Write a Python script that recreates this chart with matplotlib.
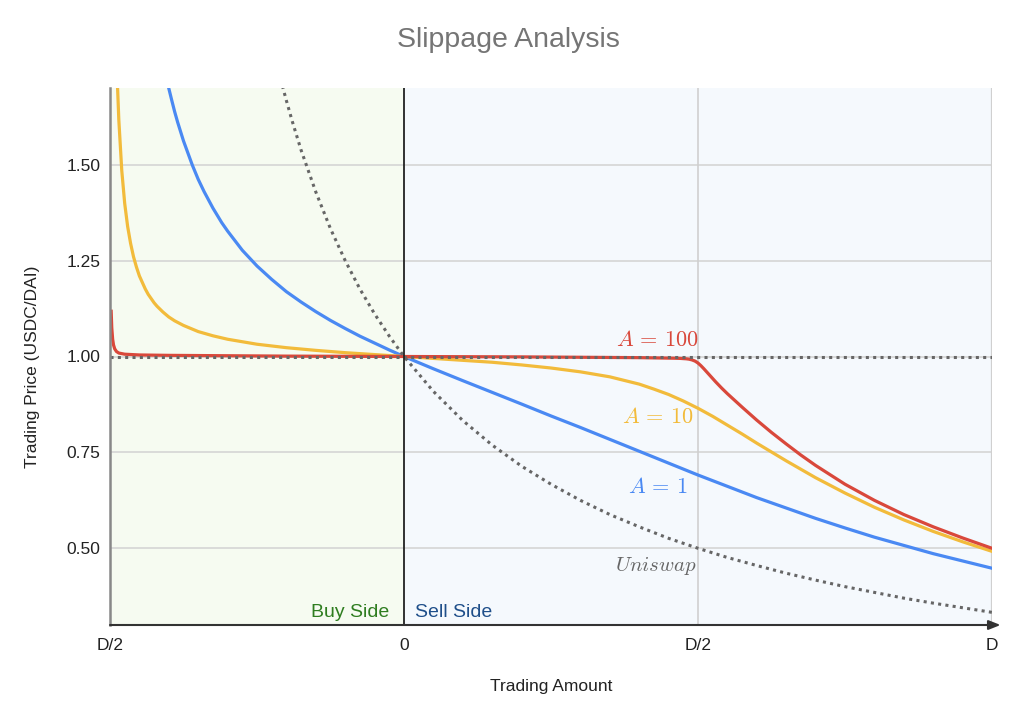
import matplotlib
matplotlib.use("Agg")
import matplotlib.pyplot as plt

plt.rcParams['font.family'] = ['Liberation Sans', 'DejaVu Sans']
plt.rcParams['mathtext.fontset'] = 'cm'

# ---- data (trading amount in units of D, price USDC/DAI) ----
x_ticks = [-0.5, 0.0, 0.5, 1.0]
x_tick_labels = ['D/2', '0', 'D/2', 'D']
y_ticks = [0.5, 0.75, 1.0, 1.25, 1.5]
y_tick_labels = ['0.50', '0.75', '1.00', '1.25', '1.50']

a1_x = [-0.42, -0.415, -0.41, -0.405, -0.4, -0.395, -0.39, -0.385, -0.375, -0.36, -0.35,
        -0.34, -0.325, -0.31, -0.3, -0.275, -0.25, -0.225, -0.2, -0.175, -0.15, -0.125,
        -0.1, -0.075, -0.05, -0.025, 0.0, 0.05, 0.1, 0.2, 0.25, 0.3, 0.4, 0.45, 0.5,
        0.6, 0.7, 0.75, 0.8, 0.9, 1.0]
a1_y = [1.858, 1.813, 1.771, 1.734, 1.699, 1.668, 1.638, 1.611, 1.562, 1.499, 1.462,
        1.430, 1.387, 1.349, 1.327, 1.277, 1.236, 1.201, 1.169, 1.142, 1.117, 1.094,
        1.073, 1.053, 1.035, 1.017, 1.0, 0.968, 0.937, 0.876, 0.845, 0.815, 0.753,
        0.722, 0.691, 0.632, 0.578, 0.553, 0.529, 0.486, 0.448]

a10_x = [-0.49, -0.4875, -0.485, -0.48, -0.475, -0.47, -0.465, -0.46, -0.455, -0.45,
         -0.44, -0.435, -0.43, -0.425, -0.42, -0.41, -0.4, -0.39, -0.375, -0.35, -0.325,
         -0.3, -0.25, -0.2, -0.15, -0.1, -0.05, 0.0, 0.05, 0.1, 0.15, 0.2, 0.25, 0.3,
         0.35, 0.4, 0.425, 0.45, 0.475, 0.5, 0.525, 0.55, 0.575, 0.6, 0.625, 0.65,
         0.675, 0.7, 0.75, 0.8, 0.85, 0.9, 0.95, 1.0]
a10_y = [1.854, 1.716, 1.617, 1.485, 1.399, 1.339, 1.295, 1.260, 1.233, 1.210,
         1.176, 1.162, 1.151, 1.140, 1.131, 1.116, 1.103, 1.093, 1.081, 1.065, 1.054,
         1.045, 1.032, 1.023, 1.016, 1.010, 1.005, 1.0, 0.995, 0.990, 0.985, 0.978,
         0.970, 0.960, 0.947, 0.928, 0.915, 0.901, 0.884, 0.865, 0.844, 0.821, 0.798,
         0.774, 0.751, 0.728, 0.706, 0.684, 0.644, 0.607, 0.574, 0.544, 0.517, 0.492]

a100_x = [-0.498, -0.497, -0.4955, -0.494, -0.492, -0.489, -0.485, -0.475, -0.45, -0.4,
          -0.3, -0.2, -0.1, 0.0, 0.1, 0.2, 0.3, 0.4, 0.46, 0.47, 0.48, 0.485, 0.49,
          0.495, 0.5, 0.505, 0.51, 0.52, 0.53, 0.54, 0.55, 0.575, 0.6, 0.625, 0.65,
          0.675, 0.7, 0.75, 0.8, 0.85, 0.9, 0.95, 1.0]
a100_y = [1.118, 1.075, 1.045, 1.030, 1.020, 1.013, 1.009, 1.006, 1.004, 1.003,
          1.002, 1.001, 1.0005, 1.0, 0.9995, 0.999, 0.998, 0.997, 0.9955, 0.995, 0.994,
          0.993, 0.991, 0.988, 0.983, 0.976, 0.968, 0.951, 0.934, 0.918, 0.903, 0.868,
          0.834, 0.802, 0.772, 0.743, 0.716, 0.667, 0.625, 0.588, 0.556, 0.527, 0.500]

uni_x = [-0.21, -0.2, -0.19, -0.175, -0.15, -0.125, -0.1, -0.075, -0.05, -0.025, 0.0,
         0.05, 0.1, 0.15, 0.2, 0.25, 0.3, 0.35, 0.4, 0.45, 0.5, 0.55, 0.6, 0.65, 0.7,
         0.75, 0.8, 0.85, 0.9, 0.95, 1.0]
uni_y = [1.724, 1.667, 1.613, 1.538, 1.429, 1.333, 1.25, 1.176, 1.111, 1.053, 1.0,
         0.909, 0.833, 0.769, 0.714, 0.667, 0.625, 0.588, 0.556, 0.526, 0.5, 0.476,
         0.455, 0.435, 0.417, 0.4, 0.385, 0.370, 0.357, 0.345, 0.333]

RED = '#d9483b'
YEL = '#f2bb3b'
BLU = '#4a89f3'
GRY = '#666666'

fig = plt.figure(figsize=(10.24, 7.21), dpi=100)
ax = fig.add_axes([110/1024, 1-625/721, 882/1024, 537/721])
ax.set_xlim(-0.5, 1.0)
ax.set_ylim(0.3, 1.7)

ax.axvspan(-0.5, 0.0, color='#f6fbf1', lw=0, zorder=0)
ax.axvspan(0.0, 1.0, color='#f5f9fd', lw=0, zorder=0)

for yv in y_ticks:
    ax.axhline(yv, color='#d5d5d5', lw=1.2, zorder=1)
ax.axvline(0.5, color='#d0d0d0', lw=1.2, zorder=1)
ax.axvline(1.0, color='#d0d0d0', lw=1.6, zorder=1)

ax.plot(a1_x, a1_y, color=BLU, lw=2.3, zorder=3, solid_joinstyle='round')
ax.plot(a10_x, a10_y, color=YEL, lw=2.3, zorder=3, solid_joinstyle='round')
ax.plot(a100_x, a100_y, color=RED, lw=2.3, zorder=4, solid_joinstyle='round')

dot = (0, (1.0, 1.4))
ax.plot(uni_x, uni_y, color=GRY, lw=2.2, linestyle=dot, zorder=5)
ax.axhline(1.0, color=GRY, lw=2.2, linestyle=dot, zorder=5)

ax.axvline(0.0, color='#222222', lw=1.3, zorder=6)

for s in ['top', 'right', 'bottom']:
    ax.spines[s].set_visible(False)
ax.spines['left'].set_color('#888888')
ax.spines['left'].set_linewidth(1.8)
ax.spines['left'].set_zorder(7)

ax.annotate('', xy=(1.0145, 0.3), xytext=(-0.5, 0.3), xycoords='data',
            arrowprops=dict(arrowstyle='-|>,head_length=0.7,head_width=0.28',
                            color='#333333', lw=1.5, shrinkA=0, shrinkB=0),
            annotation_clip=False, zorder=8)

ax.set_xticks(x_ticks)
ax.set_xticklabels(x_tick_labels)
ax.set_yticks(y_ticks)
ax.set_yticklabels(y_tick_labels)
ax.tick_params(axis='both', length=0, labelsize=12.5, colors='#222222')
ax.tick_params(axis='x', pad=9)
ax.tick_params(axis='y', pad=7)

ax.text(0.431, 1.027, r'$A\,=\,100$', color=RED, fontsize=16, ha='center', va='baseline', zorder=9)
ax.text(0.432, 0.827, r'$A\,=\,10$', color=YEL, fontsize=16, ha='center', va='baseline', zorder=9)
ax.text(0.432, 0.645, r'$A\,=\,1$', color=BLU, fontsize=16, ha='center', va='baseline', zorder=9)
ax.text(0.428, 0.441, r'$\mathit{Uniswap}$', color=GRY, fontsize=15, ha='center', va='baseline', zorder=9)

ax.text(-0.0255, 0.320, 'Buy Side', color='#2f7d20', fontsize=14, ha='right', va='baseline', zorder=9)
ax.text(0.0187, 0.320, 'Sell Side', color='#1f4f8a', fontsize=14, ha='left', va='baseline', zorder=9)

fig.text(508/1024, 1-40/721, 'Slippage Analysis', ha='center', va='center',
         fontsize=20.5, color='#757575')
fig.text(33/1024, 1-367/721, 'Trading Price (USDC/DAI)', rotation=90, ha='center',
         va='center', fontsize=12.5, color='#222222')
fig.text(551/1024, 1-687/721, 'Trading Amount', ha='center', va='center',
         fontsize=12.5, color='#222222')

fig.savefig('out.png', dpi=100)
